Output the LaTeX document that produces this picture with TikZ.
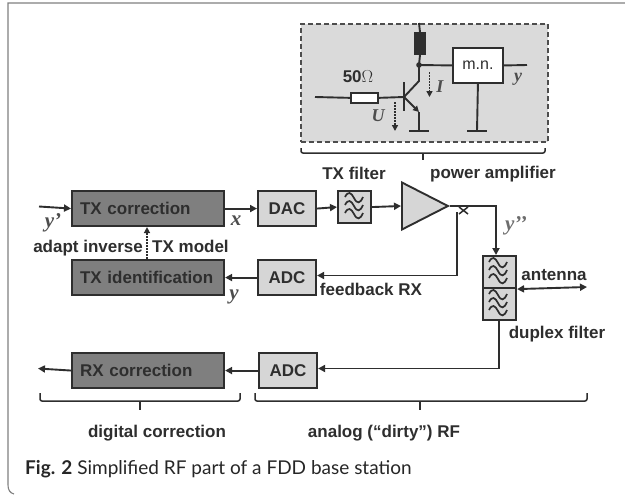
\documentclass[tikz,border=0pt]{standalone}
\usepackage{fontspec}
\setmainfont{Liberation Sans}
\newfontfamily\capfont{Lato}
\newfontfamily\symfont{Liberation Serif}
\usetikzlibrary{arrows.meta,shapes.geometric}
\definecolor{ink}{HTML}{2E2E2E}
\definecolor{darkfill}{HTML}{7F7F7F}
\definecolor{lightfill}{HTML}{D6D6D6}
\definecolor{panelfill}{HTML}{DADADA}
\tikzset{
  x=1pt,y=-1pt,
  wire/.style={draw=ink,line width=1.9pt,-{Triangle[length=7pt,width=7pt]}},
  plainwire/.style={draw=ink,line width=1.9pt},
  dotwire/.style={draw=ink,line width=1.6pt,dash pattern=on 1.6pt off 1.4pt,-{Triangle[length=6pt,width=6pt]}},
  lab/.style={text=ink,font=\fontsize{17}{19}\bfseries\selectfont,inner sep=0pt},
  vlab/.style={text=ink!85,font=\fontsize{21}{23}\symfont\bfseries\itshape\selectfont,inner sep=0pt},
  boxbase/.style={draw=ink,line width=2.1pt,anchor=north west,inner sep=0pt,text=ink,font=\fontsize{17}{19}\bfseries\selectfont},
  darkbox/.style={boxbase,fill=darkfill,minimum width=152pt,minimum height=35pt,text width=136pt,align=left,inner xsep=8pt},
  lightbox/.style={boxbase,fill=lightfill,minimum width=58pt,minimum height=35pt,align=center},
  filterbox/.style={boxbase,fill=lightfill,minimum width=33pt,minimum height=32pt},
  brace/.style={draw=ink,line width=1.5pt,rounded corners=2pt},
  wave/.style={draw=ink,line width=1.7pt},
}
\newcommand{\onewave}[2]{\draw[wave] (#1-9,#2-1) .. controls (#1-6,#2-7) and (#1-3,#2-6) .. (#1,#2) .. controls (#1+3,#2+6) and (#1+6,#2+6) .. (#1+9,#2-1);}
\newcommand{\filtersym}[2]{\onewave{#1}{#2-8}\onewave{#1}{#2}\onewave{#1}{#2+8}}
\begin{document}
\begin{tikzpicture}
\useasboundingbox (0,0) rectangle (625,496);
\fill[white] (0,0) rectangle (625,496);
% frame
\draw[draw=black!50,line width=1.1pt] (625,3) -- (8,3) -- (8,485) .. controls (8,490) and (10,493) .. (14,494);
% panel
\node[draw=ink!85,fill=panelfill,line width=1.8pt,dash pattern=on 5pt off 3pt,anchor=north west,minimum width=247pt,minimum height=118pt,inner sep=0pt] (panel) at (300,23) {};
% transistor stage
\node[draw=ink,fill=ink,line width=1pt,anchor=north west,minimum width=11pt,minimum height=22pt,inner sep=0pt] (load) at (414,32) {};
\node[draw=ink,fill=white,line width=1.9pt,anchor=north west,minimum width=50pt,minimum height=35pt,inner sep=0pt,text=ink,font=\fontsize{16}{18}\selectfont] (mn) at (452,47) {m.n.};
\node[draw=ink,fill=white,line width=1.7pt,anchor=north west,minimum width=27pt,minimum height=10pt,inner sep=0pt] (r50) at (350,92) {};
\coordinate (vcc) at (419,23);
\coordinate (junction) at (419,65);
\coordinate (mnout) at (527,65);
\coordinate (inp) at (315,97);
\coordinate (base) at (404,97);
\coordinate (barT) at (404,82);
\coordinate (barB) at (404,111);
\coordinate (coll) at (419,81);
\coordinate (emit) at (419,112);
\coordinate (gnd1) at (419,131);
\coordinate (gnd2) at (477,131);
\draw[plainwire] (vcc) -- (load.north);
\draw[plainwire] (load.south) -- (junction) -- (coll) -- (base);
\draw[plainwire] (junction) -- (mn.west);
\draw[plainwire] (mn.east) -- (mnout);
\draw[plainwire] (inp) -- (r50.west);
\draw[plainwire] (r50.east) -- (base);
\draw[plainwire] (barT) -- (barB);
\draw[plainwire,-{Triangle[length=6pt,width=6pt]}] (base) -- (emit);
\draw[plainwire] (emit) -- (gnd1);
\draw[plainwire] (mn.south) -- (gnd2);
\draw[plainwire] ([xshift=-10pt]gnd1) -- ([xshift=10pt]gnd1);
\draw[plainwire] ([xshift=-10pt]gnd2) -- ([xshift=10pt]gnd2);
\fill[ink] (junction) circle (2.8pt);
\coordinate (iA) at (429.5,72); \coordinate (iB) at (429.5,97);
\coordinate (uA) at (395,102); \coordinate (uB) at (395,131);
\draw[dotwire] (iA) -- (iB);
\draw[dotwire] (uA) -- (uB);
\node[lab] (ohm) at (358,77) {50\fontsize{18}{20}\symfont$\Omega$};
\node[vlab,font=\fontsize{18}{20}\symfont\bfseries\itshape\selectfont] (lI) at (440,87) {I};
\node[vlab,font=\fontsize{18}{20}\symfont\bfseries\itshape\selectfont] (lU) at (378,116) {U};
\node[vlab,font=\fontsize{18}{20}\symfont\bfseries\itshape\selectfont] (ly1) at (518,79) {y};
% amp bracket
\draw[brace] (301,148) -- (301,153) -- (545,153) -- (545,148);
\draw[brace] (423,153) -- (423,160);
\node[lab] (ltx) at (354,173) {TX filter};
\node[lab] (lpa) at (493,174) {power amplifier};
% blocks
\node[darkbox] (txc) at (71,190) {TX correction};
\node[darkbox] (txi) at (71,259) {TX identification};
\node[darkbox] (rxc) at (71,352) {RX correction};
\node[lightbox] (dac) at (257,190) {DAC};
\node[lightbox] (adc1) at (257,259) {ADC};
\node[lightbox] (adc2) at (258,352) {ADC};
\node[filterbox] (txf) at (337,190) {};
\filtersym{354}{206}
\node[boxbase,line width=1.9pt,fill=lightfill,isosceles triangle,isosceles triangle stretches,minimum width=47pt,minimum height=46pt,anchor=west] (pa) at (401,206) {};
\node[filterbox] (dupT) at (482,255) {};
\node[filterbox] (dupB) at (482,287) {};
\filtersym{498}{271}
\filtersym{498}{303}
% connectors
\coordinate (in1) at (39,206.5);
\coordinate (corner1) at (496,206);
\coordinate (fbT) at (457,212);
\coordinate (fbB) at (457,275.5);
\coordinate (ant) at (587,287);
\coordinate (corner2) at (499,368.5);
\coordinate (rxout) at (38,368.5);
\coordinate (dupBs) at (499,319);
\draw[wire] (in1) -- (txc.west);
\draw[wire] (txc.east) -- (dac.west);
\draw[wire] (dac.east) -- (txf.west);
\draw[wire] (txf.east) -- (pa.west);
\draw[wire] (pa.apex) -- (corner1) -- (dupT.north -| corner1);
\draw[wire] (fbT) -- (fbB) -- (fbB -| adc1.east);
\draw[wire] (adc1.west) -- (txi.east);
\draw[wire] (dupBs) -- (corner2) -- (adc2.east |- corner2);
\draw[wire] (adc2.west) -- (rxc.east);
\draw[wire] (rxc.west) -- (rxout);
\draw[wire,{Triangle[length=7pt,width=7pt]}-{Triangle[length=7pt,width=7pt]}] (dupT.south east) -- (ant);
% coupler cross
\draw[draw=ink,line width=1.5pt] (459,207) -- (468,214) (468,207) -- (459,214);
% labels
\node[vlab] (lyp) at (53,223) {y’};
\node[vlab] (lx) at (236,221) {x};
\node[vlab] (ly) at (234,297) {y};
\node[vlab,text=ink!70] (lypp) at (516,226) {y’’};
\node[lab] (ladapt) at (131,248) {adapt inverse\hspace{0.55em}TX model};
\draw[dotwire] (txi.north -| 147,0) -- (txc.south -| 147,0);
\node[lab] (lfb) at (371,289) {feedback RX};
\node[lab] (lant) at (554,275) {antenna};
\node[lab] (ldup) at (557,334) {duplex filter};
% bottom brackets
\draw[brace] (40,393) -- (40,401) -- (240,401) -- (240,393);
\draw[brace] (140,401) -- (140,410);
\draw[brace] (255,393) -- (255,401) -- (587,401) -- (587,393);
\draw[brace] (420,401) -- (420,410);
\node[lab] (ldig) at (157,433) {digital correction};
\node[lab] (lana) at (384,433) {analog (“dirty”) RF};
% caption
\node[anchor=west,inner sep=0pt,font=\fontsize{19}{22}\capfont\selectfont,text=black!85] (cap) at (25,469) {\textbf{Fig. 2} Simplified RF part of a FDD base station};
\end{tikzpicture}
\end{document}
